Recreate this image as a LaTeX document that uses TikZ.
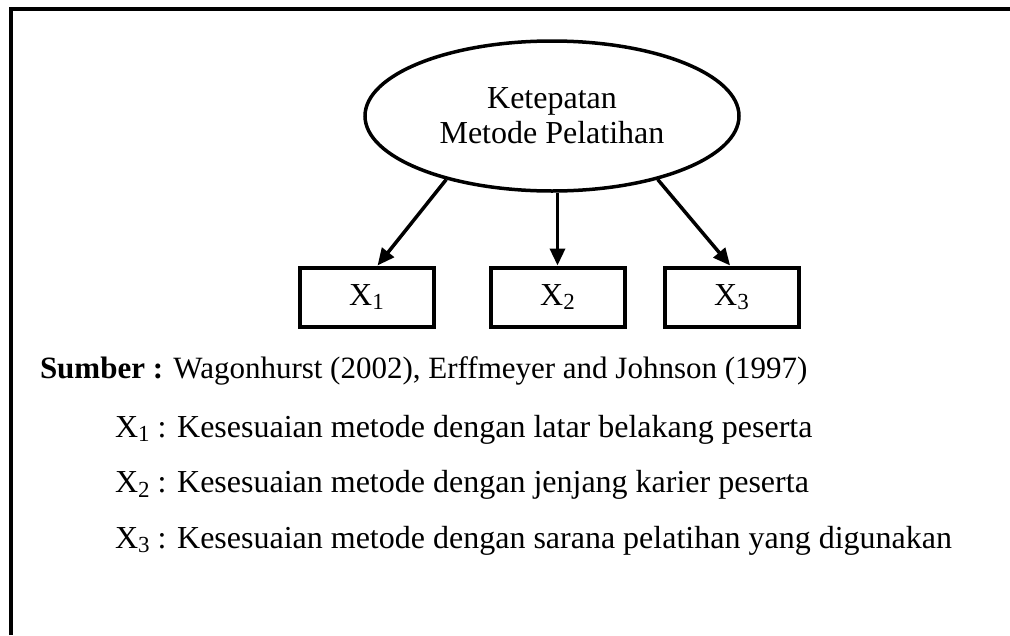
\documentclass[tikz,border=0pt]{standalone}
\usepackage{fontspec}
\setmainfont{Liberation Serif}
\usetikzlibrary{shapes.geometric,arrows.meta,calc}
\newcommand\xsub[1]{\raisebox{-0.15em}{\fontsize{23}{23}\selectfont #1}}
\tikzset{
  txt/.style={font=\fontsize{32}{38}\selectfont, inner sep=0pt, outer sep=0pt},
  srctxt/.style={font=\fontsize{31}{37}\selectfont, inner sep=0pt, outer sep=0pt},
  varbox/.style={draw, line width=4pt, minimum width=134pt, minimum height=59pt, inner sep=0pt,
    text height=22pt, text depth=6pt, font=\fontsize{32}{38}\selectfont},
  conn/.style={line width=3.5pt, -{Triangle[length=17pt,width=15pt]}},
  frameline/.style={line width=4pt}
}
\begin{document}
\begin{tikzpicture}[x=1pt,y=-1pt]
\useasboundingbox (0,0) rectangle (1010,635);
% frame
\coordinate (fb) at (11,635);
\coordinate (fc) at (11,9);
\coordinate (fr) at (1010,9);
\draw[frameline] (fb) -- (fc) -- (fr);
% ellipse
\node[draw, ellipse, line width=3.5pt, minimum width=374pt, minimum height=150pt, inner sep=0pt,
      align=center, font=\fontsize{32}{35}\selectfont] (el) at (552,116) {Ketepatan\\Metode Pelatihan};
% boxes
\node[varbox] (x1) at (366.5,297) {X\xsub{1}};
\node[varbox] (x2) at (557.5,297) {X\xsub{2}};
\node[varbox] (x3) at (731.5,297) {X\xsub{3}};
% arrows
\draw[conn] (el.211) -- ($(x1.north west)!0.58!(x1.north east)$);
\draw[conn] (x2.north |- el.south) -- (x2.north);
\draw[conn] (el.329) -- ($(x3.north west)!0.49!(x3.north east)$);
% legend
\node[srctxt, anchor=base west] (src) at (40,378) {\textbf{Sumber :} Wagonhurst (2002), Erffmeyer and Johnson (1997)};
\node[txt, anchor=base west] (l1) at (115,437) {X\xsub{1} : Kesesuaian metode dengan latar belakang peserta};
\node[txt, anchor=base west] (l2) at (115,492.5) {X\xsub{2} : Kesesuaian metode dengan jenjang karier peserta};
\node[txt, anchor=base west] (l3) at (115,548) {X\xsub{3} : Kesesuaian metode dengan sarana pelatihan yang digunakan};
\end{tikzpicture}
\end{document}
